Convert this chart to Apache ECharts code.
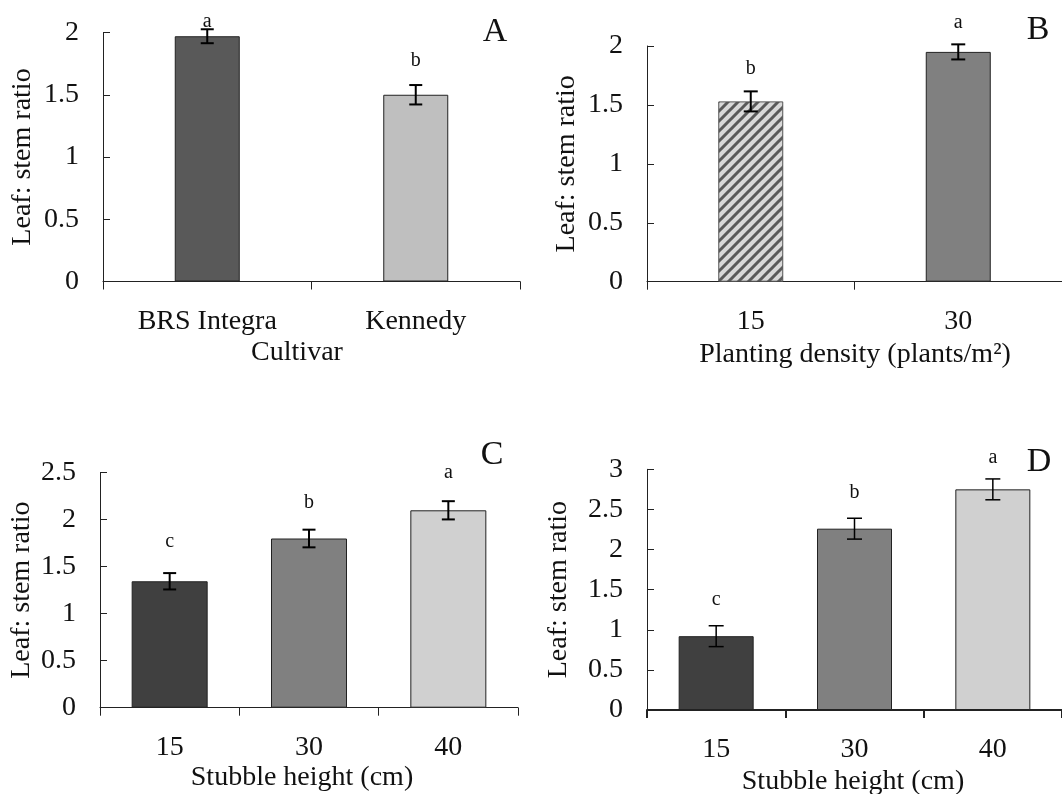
<!DOCTYPE html>
<html>
<head>
<meta charset="utf-8">
<script src="https://cdn.jsdelivr.net/npm/echarts@6/dist/echarts.min.js"></script>
<style>
    html, body { margin: 0; padding: 0; background: #fff; }
    #main { width: 1062px; height: 794px; }
</style>
</head>
<body>
<div id="main"></div>
<script>
// panel A - cultivar
var cultivars = ['BRS Integra', 'Kennedy']
var cultivarMean = [1.97, 1.50]
var cultivarErr = [0.056, 0.078]
var cultivarLetters = ['a', 'b']
var cultivarLetterY = [2.09, 1.77]

// panel B - planting density
var densities = ['15', '30']
var densityMean = [1.53, 1.95]
var densityErr = [0.085, 0.064]
var densityLetters = ['b', 'a']
var densityLetterY = [1.81, 2.20]

// panel C - stubble height
var heightsC = ['15', '30', '40']
var stubbleMeanC = [1.345, 1.80, 2.10]
var stubbleErrC = [0.087, 0.094, 0.097]
var stubbleLettersC = ['c', 'b', 'a']
var stubbleLetterYC = [1.77, 2.18, 2.50]

// panel D - stubble height
var heightsD = ['15', '30', '40']
var stubbleMeanD = [0.92, 2.26, 2.75]
var stubbleErrD = [0.13, 0.13, 0.13]
var stubbleLettersD = ['c', 'b', 'a']
var stubbleLetterYD = [1.37, 2.71, 3.14]

var FONT = '"Liberation Serif", "Times New Roman", serif'
var INK = '#111'

function hatch() {
    var c = document.createElement('canvas')
    c.width = 10
    c.height = 10
    var ctx = c.getContext('2d')
    ctx.fillStyle = '#d9d9d9'
    ctx.fillRect(0, 0, 10, 10)
    ctx.strokeStyle = '#5a5a5a'
    ctx.lineWidth = 3
    ctx.beginPath()
    ctx.moveTo(-1, 11); ctx.lineTo(11, -1)
    ctx.moveTo(-1, 1); ctx.lineTo(1, -1)
    ctx.moveTo(9, 11); ctx.lineTo(11, 9)
    ctx.stroke()
    return c
}

function xAxisOf(idx, cats, lineW) {
    return {
        gridIndex: idx,
        type: 'category',
        data: cats,
        boundaryGap: true,
        axisLine: { lineStyle: { color: '#222', width: lineW } },
        axisTick: { show: true, inside: false, length: 8, alignWithLabel: false, lineStyle: { color: '#222', width: lineW } },
        axisLabel: { color: INK, fontFamily: FONT, fontSize: 28, margin: 26 },
        splitLine: { show: false }
    }
}

function yAxisOf(idx, max, gap) {
    return {
        gridIndex: idx,
        type: 'value',
        min: 0,
        max: max,
        interval: 0.5,
        name: 'Leaf: stem ratio',
        nameLocation: 'middle',
        nameRotate: 90,
        nameGap: gap,
        nameTextStyle: { color: INK, fontFamily: FONT, fontSize: 28 },
        axisLine: { show: true, lineStyle: { color: '#222', width: 1 } },
        axisTick: { show: true, inside: true, length: 7, lineStyle: { color: '#222' } },
        axisLabel: { color: INK, fontFamily: FONT, fontSize: 28, margin: 24 },
        splitLine: { show: false }
    }
}

function barSeries(idx, values, colors, width) {
    return {
        type: 'bar',
        xAxisIndex: idx,
        yAxisIndex: idx,
        barWidth: width,
        data: values.map(function (v, i) {
            return {
                value: v,
                itemStyle: { color: colors[i], borderColor: i === 0 && idx === 1 ? '#555' : '#222', borderWidth: 1 }
            }
        })
    }
}

function errSeries(idx, mean, err, letters, letterY, capW, lw) {
    return {
        type: 'custom',
        xAxisIndex: idx,
        yAxisIndex: idx,
        z: 5,
        silent: true,
        data: mean.map(function (m, i) {
            return [i, m, err[i], letterY[i]]
        }),
        renderItem: function (params, api) {
            var i = api.value(0)
            var m = api.value(1)
            var e = api.value(2)
            var hi = api.coord([i, m + e])
            var lo = api.coord([i, m - e])
            var t = api.coord([i, api.value(3)])
            var s = { stroke: '#000', lineWidth: lw }
            return {
                type: 'group',
                children: [
                    { type: 'line', shape: { x1: hi[0], y1: hi[1], x2: lo[0], y2: lo[1] }, style: s },
                    { type: 'line', shape: { x1: hi[0] - capW / 2, y1: hi[1], x2: hi[0] + capW / 2, y2: hi[1] }, style: s },
                    { type: 'line', shape: { x1: lo[0] - capW / 2, y1: lo[1], x2: lo[0] + capW / 2, y2: lo[1] }, style: s },
                    {
                        type: 'text',
                        x: t[0],
                        y: t[1],
                        style: {
                            text: letters[params.dataIndex],
                            fill: INK,
                            fontFamily: FONT,
                            fontSize: 20,
                            align: 'center',
                            verticalAlign: 'middle'
                        }
                    }
                ]
            }
        }
    }
}

function label(text, x, y, size) {
    return {
        type: 'text',
        x: x,
        y: y,
        style: {
            text: text,
            fill: INK,
            fontFamily: FONT,
            fontSize: size,
            align: 'center',
            verticalAlign: 'middle'
        }
    }
}

var chart = echarts.init(document.getElementById('main'))

var option = {
    backgroundColor: '#fff',
    animation: false,
    grid: [
        { left: 103, top: 32.5, width: 417, height: 249 },
        { left: 647, top: 46, width: 416, height: 235.7 },
        { left: 100, top: 472.7, width: 418, height: 235 },
        { left: 647, top: 469.3, width: 416, height: 240.7 }
    ],
    xAxis: [
        xAxisOf(0, cultivars, 1),
        xAxisOf(1, densities, 1),
        xAxisOf(2, heightsC, 1),
        xAxisOf(3, heightsD, 2)
    ],
    yAxis: [
        yAxisOf(0, 2, 66),
        yAxisOf(1, 2, 66),
        yAxisOf(2, 2.5, 64),
        yAxisOf(3, 3, 74)
    ],
    series: [
        barSeries(0, cultivarMean, ['#595959', '#bfbfbf'], 65),
        errSeries(0, cultivarMean, cultivarErr, cultivarLetters, cultivarLetterY, 13, 2),
        barSeries(1, densityMean, [{ image: hatch(), repeat: 'repeat' }, '#808080'], 65),
        errSeries(1, densityMean, densityErr, densityLetters, densityLetterY, 14, 2),
        barSeries(2, stubbleMeanC, ['#404040', '#808080', '#d0d0d0'], 76),
        errSeries(2, stubbleMeanC, stubbleErrC, stubbleLettersC, stubbleLetterYC, 13, 2),
        barSeries(3, stubbleMeanD, ['#404040', '#808080', '#d0d0d0'], 75),
        errSeries(3, stubbleMeanD, stubbleErrD, stubbleLettersD, stubbleLetterYD, 15, 1.5)
    ],
    graphic: [
        label('A', 495, 32, 34),
        label('B', 1038, 30, 34),
        label('C', 492, 455, 34),
        label('D', 1039, 462, 34),
        label('Cultivar', 297, 353, 28),
        label('Planting density (plants/m\u00B2)', 855, 355, 28),
        label('Stubble height (cm)', 302, 778, 28),
        label('Stubble height (cm)', 853, 782, 28)
    ]
}

chart.setOption(option)
</script>
</body>
</html>
